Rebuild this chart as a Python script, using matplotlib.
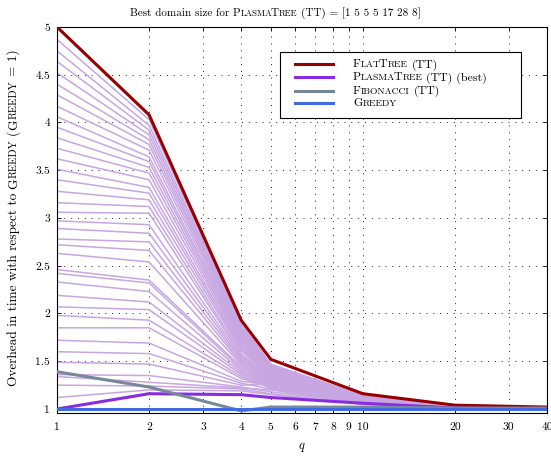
import matplotlib
matplotlib.use("Agg")
import matplotlib.pyplot as plt
from matplotlib.ticker import FixedLocator, FixedFormatter, NullLocator
from matplotlib.transforms import IdentityTransform
from matplotlib.lines import Line2D
from matplotlib.patches import Rectangle

# number of processors (x axis)
q = [1, 2, 4, 5, 10, 20, 40]

flat_tree = [5.00, 4.08, 1.93, 1.52, 1.16, 1.04, 1.02]
plasma_best = [1.00, 1.16, 1.15, 1.12, 1.06, 1.01, 1.00]
fibonacci = [1.39, 1.23, 0.98, 1.02, 1.02, 1.01, 1.01]
greedy = [1.00, 1.00, 1.00, 1.00, 1.00, 1.00, 1.00]

# PlasmaTree (TT), one curve per domain size
plasma_domains = [
    [4.87, 4.03, 1.89, 1.47, 1.14, 1.03, 1.01],
    [4.75, 3.97, 1.87, 1.46, 1.14, 1.03, 1.01],
    [4.64, 3.92, 1.85, 1.45, 1.13, 1.03, 1.01],
    [4.52, 3.87, 1.83, 1.44, 1.13, 1.03, 1.01],
    [4.40, 3.82, 1.81, 1.43, 1.13, 1.03, 1.01],
    [4.29, 3.77, 1.79, 1.42, 1.12, 1.03, 1.01],
    [4.17, 3.71, 1.77, 1.41, 1.12, 1.02, 1.01],
    [4.06, 3.64, 1.75, 1.40, 1.12, 1.02, 1.01],
    [3.95, 3.59, 1.73, 1.39, 1.11, 1.02, 1.01],
    [3.84, 3.53, 1.71, 1.38, 1.11, 1.02, 1.01],
    [3.73, 3.47, 1.69, 1.37, 1.11, 1.02, 1.01],
    [3.62, 3.40, 1.67, 1.36, 1.10, 1.02, 1.01],
    [3.51, 3.32, 1.65, 1.35, 1.10, 1.02, 1.01],
    [3.40, 3.26, 1.63, 1.34, 1.10, 1.02, 1.01],
    [3.28, 3.19, 1.61, 1.33, 1.10, 1.02, 1.01],
    [3.16, 3.12, 1.58, 1.32, 1.09, 1.02, 1.01],
    [3.06, 3.05, 1.56, 1.31, 1.09, 1.02, 1.00],
    [2.97, 2.93, 1.54, 1.30, 1.09, 1.02, 1.00],
    [2.89, 2.84, 1.52, 1.29, 1.09, 1.02, 1.00],
    [2.78, 2.75, 1.50, 1.28, 1.08, 1.02, 1.00],
    [2.72, 2.66, 1.48, 1.27, 1.08, 1.02, 1.00],
    [2.63, 2.54, 1.46, 1.27, 1.08, 1.02, 1.00],
    [2.46, 2.35, 1.44, 1.26, 1.08, 1.01, 1.00],
    [2.42, 2.32, 1.42, 1.25, 1.08, 1.01, 1.00],
    [2.33, 2.23, 1.40, 1.24, 1.07, 1.01, 1.00],
    [2.19, 2.12, 1.38, 1.24, 1.07, 1.01, 1.00],
    [2.07, 2.04, 1.36, 1.23, 1.07, 1.01, 1.00],
    [1.98, 1.93, 1.34, 1.22, 1.07, 1.01, 1.00],
    [1.85, 1.85, 1.32, 1.23, 1.07, 1.01, 1.00],
    [1.72, 1.69, 1.29, 1.25, 1.06, 1.01, 1.00],
    [1.60, 1.58, 1.27, 1.21, 1.06, 1.01, 1.00],
    [1.49, 1.47, 1.25, 1.26, 1.06, 1.01, 1.00],
    [1.36, 1.35, 1.23, 1.18, 1.06, 1.01, 1.00],
    [1.34, 1.28, 1.22, 1.20, 1.06, 1.01, 1.00],
    [1.25, 1.24, 1.21, 1.16, 1.05, 1.01, 1.00],
    [1.12, 1.20, 1.19, 1.15, 1.05, 1.01, 1.00],
]

x_ticks = [1, 2, 3, 4, 5, 6, 7, 8, 9, 10, 20, 30, 40]
y_ticks = [1, 1.5, 2, 2.5, 3, 3.5, 4, 4.5, 5]

series = [
    ("FlatTree", " (TT)", flat_tree, "#960000"),
    ("PlasmaTree", " (TT) (best)", plasma_best, "#8a2be2"),
    ("Fibonacci", " (TT)", fibonacci, "#778899"),
    ("Greedy", "", greedy, "#4169e1"),
]

FONT = "cmr10"
FS = 8
W, H = 551, 459
KERN = {("A", "T"): -1.3, ("T", "T"): -1.6}

plt.rcParams["mathtext.fontset"] = "cm"
plt.rcParams["axes.formatter.use_mathtext"] = True


def small_caps(word, size):
    """Split a word into (text, size) pieces faking LaTeX small caps."""
    pieces = []
    for ch in word:
        fs = size * 0.8 if ch.islower() else size
        s = ch.upper()
        if pieces and pieces[-1][1] == fs:
            pieces[-1] = (pieces[-1][0] + s, fs)
        else:
            pieces.append((s, fs))
    return pieces


def plain(text, size):
    return [(text, size)]


def place_pieces(fig, renderer, pieces, x, y, ha="center", vertical=False):
    """Draw pieces of text one after the other, in pixel coordinates."""
    items = []
    prev = ""
    for s, fs in pieces:
        lead = len(s) - len(s.lstrip(" "))
        trail = len(s) - len(s.rstrip(" "))
        core = s.strip(" ")
        probe = fig.text(0, 0, "x x", fontsize=fs, family=FONT)
        probe2 = fig.text(0, 0, "xx", fontsize=fs, family=FONT)
        space = (probe.get_window_extent(renderer).width
                 - probe2.get_window_extent(renderer).width)
        probe.remove()
        probe2.remove()
        t = None
        w = 0
        if core:
            t = fig.text(0, 0, core, fontsize=fs, family=FONT, zorder=10,
                         transform=IdentityTransform(), ha="left", va="baseline")
            w = t.get_window_extent(renderer).width
        k = KERN.get((prev[-1:], s[:1]), 0) if prev else 0
        items.append((lead * space + k, t, w, trail * space))
        prev = s
    total = sum(a + w + b for a, _, w, b in items)
    pos = (y if vertical else x) - (total / 2 if ha == "center" else 0)
    for lead, t, w, trail in items:
        pos += lead
        if t is not None:
            if vertical:
                t.set_rotation(90)
                t.set_rotation_mode("anchor")
                t.set_position((x, pos))
            else:
                t.set_position((pos, y))
        pos += w + trail


fig = plt.figure(figsize=(W / 100, H / 100), dpi=100)
ax = fig.add_axes([57 / W, 46 / H, 490 / W, 386 / H])

for vals in plasma_domains:
    ax.plot(q, vals, color="#c7a6e1", linewidth=1.1, zorder=2)
for name, suffix, vals, color in series:
    ax.plot(q, vals, color=color, linewidth=2.2, zorder=3)

ax.set_xscale("log")
ax.set_xlim(1, 40)
ax.set_ylim(0.958, 5)
ax.xaxis.set_major_locator(FixedLocator(x_ticks))
ax.xaxis.set_major_formatter(FixedFormatter([str(t) for t in x_ticks]))
ax.xaxis.set_minor_locator(NullLocator())
ax.yaxis.set_major_locator(FixedLocator(y_ticks))
ax.yaxis.set_major_formatter(FixedFormatter([f"{t:g}" for t in y_ticks]))
ax.tick_params(direction="in", length=3, width=0.6, top=True, right=True,
               labelsize=FS + 0.3, pad=5)
ax.tick_params(axis="x", pad=7)
for lab in ax.get_xticklabels() + ax.get_yticklabels():
    lab.set_family(FONT)
for sp in ax.spines.values():
    sp.set_linewidth(0.8)
ax.grid(True, color="black", linestyle=(0, (1.2, 7)), linewidth=0.6)
ax.set_axisbelow(True)
ax.set_xlabel("$q$", fontsize=FS + 1, labelpad=6)

renderer = fig.canvas.get_renderer()

# title
title = (plain("Best domain size for ", FS) + small_caps("PlasmaTree", FS)
         + plain(" (TT) = [1 5 5 5 17 28 8]", FS))
place_pieces(fig, renderer, title, 275.5, H - 15.5)

# y label
YS = 9.6
ylab = (plain("Overhead in time with respect to ", YS) + small_caps("Greedy", YS)
        + plain(" (", YS) + small_caps("Greedy", YS) + plain(" = 1)", YS))
place_pieces(fig, renderer, ylab, 17, H - 218, vertical=True)

# legend
box = Rectangle((280, H - 118), 241, 66, transform=IdentityTransform(),
                facecolor="white", edgecolor="black", linewidth=0.8, zorder=5)
fig.patches.append(box)
rows = [64, 77, 90.5, 103]
for (name, suffix, vals, color), ry in zip(series, rows):
    fig.lines.append(Line2D([295, 333], [H - ry, H - ry], color=color,
                            linewidth=2.2, transform=IdentityTransform(),
                            zorder=6))
    pieces = small_caps(name, FS + 0.6) + (plain(suffix, FS + 0.6) if suffix else [])
    place_pieces(fig, renderer, pieces, 353, H - ry - 3.4, ha="left")

fig.savefig("out.png", dpi=100)
